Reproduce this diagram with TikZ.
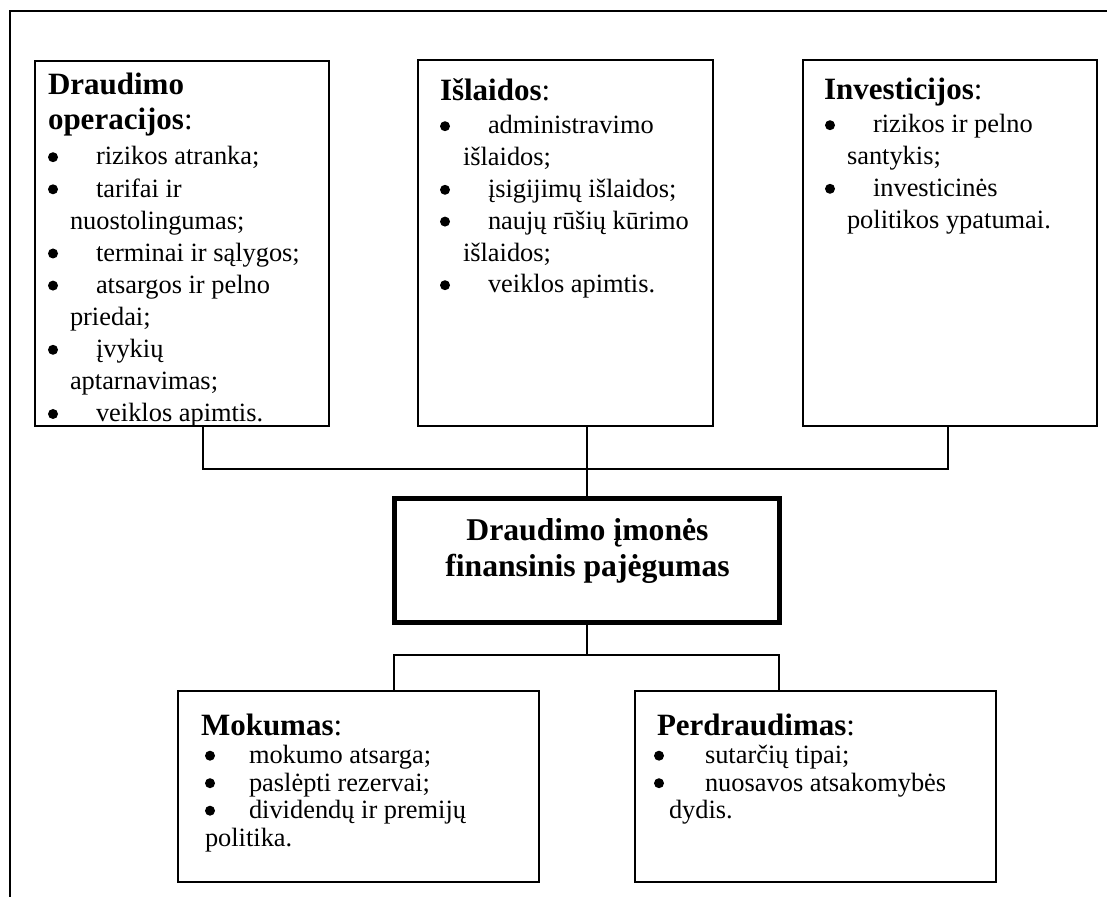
\documentclass[tikz,border=0pt]{standalone}
\usepackage{fontspec}
\setmainfont{Liberation Serif}
\newcommand\Ln[2]{\vbox to #1{\vss\hbox{\smash{#2}}}}
\newcommand\T[1]{{\fontsize{31pt}{35pt}\selectfont\textbf{#1}}}
\newcommand\Tc{{\fontsize{31pt}{35pt}\selectfont:}}
\newcommand\bul{\tikz[baseline=0pt]\fill (5pt,7.8pt) circle (5pt);}
\newcommand\Item[3]{\rlap{\hspace*{#1}\bul}\hspace*{#2}#3}
\newcommand\Cont[2]{\hspace*{#1}#2}
\newcommand\Ctr[1]{\hbox to 0pt{\hss#1\hss}}
\tikzset{
  box/.style={draw, line width=1.8pt, anchor=north west, inner sep=0pt, outer sep=0pt},
  txt/.style={anchor=base west, inner sep=0pt, outer sep=0pt, font=\fontsize{26.4pt}{31.6pt}\selectfont},
  conn/.style={line width=1.6pt},
}
\begin{document}
\begin{tikzpicture}[x=1pt,y=-1pt]
\useasboundingbox (0,0) rectangle (1107,896);
\clip (0,0) rectangle (1107,896);
% outer frame
\draw[line width=1.6pt] (10,910) -- (10,11) -- (1120,11);
% boxes
\node[box, minimum width=294pt, minimum height=365pt] (b1) at (35,61) {};
\node[box, minimum width=295pt, minimum height=366pt] (b2) at (418,60) {};
\node[box, minimum width=294pt, minimum height=366pt] (b3) at (803,60) {};
\node[box, line width=5pt, minimum width=385pt, minimum height=124pt] (ctr) at (394,498) {};
\node[box, minimum width=361pt, minimum height=191pt] (mok) at (178,691) {};
\node[box, minimum width=361pt, minimum height=191pt] (per) at (635,691) {};
% texts
\begin{scope}
\clip (36,62) rectangle (328,425);
\node[txt] (t1) at (48,95) {\vtop{\offinterlineskip
 \Ln{0pt}{\T{Draudimo}}
 \Ln{35pt}{\T{operacijos}\Tc}
 \Ln{35pt}{\Item{0pt}{48pt}{rizikos atranka;}}
 \Ln{32.1pt}{\Item{0pt}{48pt}{tarifai ir}}
 \Ln{32.1pt}{\Cont{22pt}{nuostolingumas;}}
 \Ln{32.1pt}{\Item{0pt}{48pt}{terminai ir sąlygos;}}
 \Ln{32.1pt}{\Item{0pt}{48pt}{atsargos ir pelno}}
 \Ln{32.1pt}{\Cont{22pt}{priedai;}}
 \Ln{32.1pt}{\Item{0pt}{48pt}{įvykių}}
 \Ln{32.1pt}{\Cont{22pt}{aptarnavimas;}}
 \Ln{32.1pt}{\Item{0pt}{48pt}{veiklos apimtis.}}
}};
\end{scope}
\node[txt] (t2) at (440,100.5) {\vtop{\offinterlineskip
 \Ln{0pt}{\T{Išlaidos}\Tc}
 \Ln{33.5pt}{\Item{0pt}{48pt}{administravimo}}
 \Ln{31.8pt}{\Cont{23pt}{išlaidos;}}
 \Ln{31.8pt}{\Item{0pt}{48pt}{įsigijimų išlaidos;}}
 \Ln{31.8pt}{\Item{0pt}{48pt}{naujų rūšių kūrimo}}
 \Ln{31.8pt}{\Cont{23pt}{išlaidos;}}
 \Ln{31.8pt}{\Item{0pt}{48pt}{veiklos apimtis.}}
}};
\node[txt] (t3) at (824,100) {\vtop{\offinterlineskip
 \Ln{0pt}{\T{Investicijos}\Tc}
 \Ln{33pt}{\Item{1pt}{49pt}{rizikos ir pelno}}
 \Ln{31.8pt}{\Cont{23pt}{santykis;}}
 \Ln{31.8pt}{\Item{1pt}{49pt}{investicinės}}
 \Ln{31.8pt}{\Cont{23pt}{politikos ypatumai.}}
}};
\node[txt] (tc) at (587,540) {\vtop{\offinterlineskip\bfseries\fontsize{31.7pt}{36pt}\selectfont
 \Ln{0pt}{\Ctr{Draudimo įmonės}}
 \Ln{36pt}{\Ctr{finansinis pajėgumas}}
}};
\node[txt] (t4) at (201,735) {\vtop{\offinterlineskip
 \Ln{0pt}{\T{Mokumas}\Tc}
 \Ln{28.5pt}{\Item{4pt}{48pt}{mokumo atsarga;}}
 \Ln{27.5pt}{\Item{4pt}{48pt}{paslėpti rezervai;}}
 \Ln{27.5pt}{\Item{4pt}{48pt}{dividendų ir premijų}}
 \Ln{27.5pt}{\Cont{4pt}{politika.}}
}};
\node[txt] (t5) at (657,735) {\vtop{\offinterlineskip
 \Ln{0pt}{\T{Perdraudimas}\Tc}
 \Ln{28.5pt}{\Item{-3pt}{48pt}{sutarčių tipai;}}
 \Ln{27.5pt}{\Item{-3pt}{48pt}{nuosavos atsakomybės}}
 \Ln{27.5pt}{\Cont{12pt}{dydis.}}
}};
% connectors
\coordinate (j1) at (203,469);
\coordinate (j2) at (587,469);
\coordinate (j3) at (948,469);
\coordinate (k) at (587,655);
\coordinate (k1) at (394,655);
\coordinate (k2) at (779,655);
\draw[conn] (b1.south -| j1) -- (j1) -- (j3) -- (b3.south -| j3);
\draw[conn] (b2.south -| j2) -- (ctr.north -| j2);
\draw[conn] (ctr.south -| k) -- (k);
\draw[conn] (mok.north -| k1) -- (k1) -- (k2) -- (per.north -| k2);
\end{tikzpicture}
\end{document}
